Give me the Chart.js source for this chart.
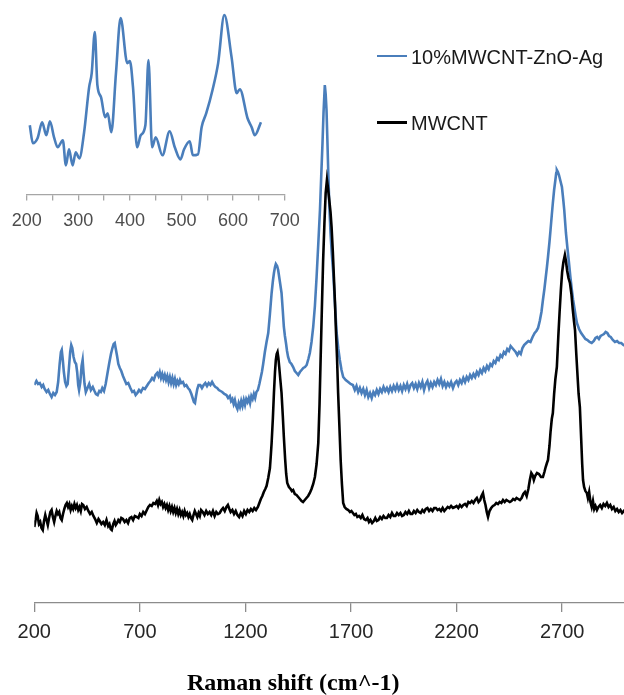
<!DOCTYPE html>
<html>
<head>
<meta charset="utf-8">
<script src="https://cdn.jsdelivr.net/npm/chart.js@4.4.1/dist/chart.umd.min.js"></script>
<style>
html,body{margin:0;padding:0;background:#fff;}
#wrap{position:relative;width:624px;height:695px;overflow:hidden;background:#fff;}
#main,#inset{position:absolute;left:0;top:0;}
.leg{position:absolute;left:377px;width:30px;height:2.5px;}
.lt{position:absolute;left:411px;font-family:'Liberation Sans',Arial,sans-serif;font-size:20px;line-height:20px;color:#1a1a1a;white-space:nowrap;}
#xtitle{position:absolute;left:187px;top:670px;font-family:'Liberation Serif','Times New Roman',serif;font-weight:bold;font-size:24px;line-height:24px;color:#000;white-space:nowrap;}
</style>
</head>
<body>
<div id="wrap">
  <canvas id="main" width="624" height="695"></canvas>
  <canvas id="inset" width="310" height="242"></canvas>
  <div class="leg" style="top:54.5px;background:#4a7ebb;"></div>
  <div class="lt" style="top:47px;">10%MWCNT-ZnO-Ag</div>
  <div class="leg" style="top:121px;background:#000;"></div>
  <div class="lt" style="top:113px;">MWCNT</div>
  <div id="xtitle">Raman shift (cm^-1)</div>
</div>
<script>
// ---- Data (Raman shift in cm^-1, intensity in arbitrary units) ----
const xTicks = [200, 700, 1200, 1700, 2200, 2700];
const insetTicks = [200, 250, 300, 350, 400, 450, 500, 550, 600, 650, 700];

const blueShift = [200,210,218,226,235,242,249,258,266,274,282,290,298,306,313,320,326,330,335,340,346,352,358,364,370,375,380,386,392,398,403,408,412,418,424,429,433,438,444,452,460,468,477,485,492,500,508,515,522,530,538,546,555,563,570,576,581,586,592,598,605,612,620,628,636,645,655,664,672,680,688,696,705,715,724,733,742,750,758,766,774,782,788,794,800,806,812,818,824,830,836,842,848,854,860,866,872,878,884,890,896,904,912,920,928,936,944,950,956,961,966,972,978,986,994,1002,1010,1018,1026,1034,1042,1050,1058,1066,1074,1082,1090,1100,1110,1118,1126,1132,1138,1144,1150,1156,1162,1168,1174,1180,1186,1192,1198,1204,1210,1216,1222,1228,1234,1240,1246,1252,1259,1266,1272,1278,1284,1292,1300,1308,1316,1324,1330,1335,1340,1344,1350,1355,1362,1371,1377,1382,1387,1392,1397,1402,1410,1418,1426,1434,1442,1450,1458,1466,1474,1482,1490,1498,1505,1513,1521,1529,1537,1545,1553,1559,1565,1570,1576,1580,1584,1588,1592,1597,1603,1609,1616,1624,1632,1640,1647,1655,1663,1675,1687,1698,1709,1718,1726,1734,1742,1750,1758,1766,1774,1782,1790,1798,1806,1814,1822,1830,1838,1846,1854,1862,1870,1878,1886,1894,1902,1910,1918,1926,1934,1942,1950,1958,1966,1974,1982,1990,1998,2006,2014,2022,2030,2038,2046,2054,2062,2070,2078,2086,2094,2102,2110,2118,2126,2134,2142,2150,2158,2166,2174,2183,2192,2200,2208,2216,2224,2232,2240,2248,2256,2264,2272,2280,2288,2296,2304,2312,2320,2328,2336,2344,2352,2360,2368,2376,2384,2392,2400,2408,2416,2424,2432,2440,2448,2456,2464,2472,2480,2488,2496,2504,2512,2520,2530,2540,2550,2560,2570,2578,2586,2594,2602,2609,2616,2622,2628,2633,2640,2645,2651,2656,2662,2668,2672,2675,2680,2685,2692,2699,2705,2710,2718,2725,2732,2739,2746,2752,2758,2764,2770,2780,2790,2800,2810,2820,2830,2840,2850,2858,2866,2874,2882,2890,2898,2906,2914,2922,2930,2940,2950,2960,2970,2980,2990,3000,3008];
const blueIntensity = [219,223,220,221,217,219,215,212,214,210,207,211,209,212,222,240,252,254,244,232,222,218,220,236,252,259,256,247,242,240,232,219,214,222,238,244,232,220,212,216,220,214,217,213,210,209,213,212,216,213,220,230,241,250,256,260,261,255,248,240,236,233,228,224,220,221,216,212,213,209,211,214,212,216,215,218,221,223,226,224,229,231,228,232,226,230,225,229,224,228,222,227,221,226,220,225,219,223,220,224,221,222,218,219,216,214,210,206,202,201,208,215,219,219,216,219,221,218,221,219,222,219,217,216,214,213,212,210,209,206,208,203,205,200,204,198,195,201,197,203,198,204,199,205,202,206,201,208,205,210,206,212,214,220,226,232,240,252,262,271,290,311,323,331,337,340,338,334,324,311,293,277,268,261,253,247,242,240,237,233,231,229,232,234,236,237,239,245,251,262,277,298,327,360,394,428,461,492,519,510,494,465,434,400,371,350,331,300,271,255,244,234,227,224,222,220,219,214,218,212,216,211,215,209,214,207,211,206,212,209,214,210,215,212,217,213,216,212,217,213,218,214,219,214,218,213,219,215,220,214,219,221,216,220,215,221,217,222,214,220,223,216,221,217,222,219,224,220,225,218,222,217,221,218,222,216,221,223,219,224,221,226,222,227,224,229,226,230,227,232,229,234,231,236,233,238,235,240,238,243,241,246,244,249,247,252,250,255,253,258,256,254,252,249,252,250,256,259,261,263,262,267,271,273,276,283,292,304,315,326,337,347,362,374,389,401,414,424,431,434,432,429,423,417,405,394,371,356,342,327,314,304,296,288,281,275,271,268,265,264,262,261,263,266,267,265,268,269,270,272,271,268,267,264,262,263,261,261,259,258,257];

const blackShift = [200,206,211,216,222,228,234,240,246,252,258,264,270,276,282,288,294,300,306,312,318,324,330,336,342,348,354,360,366,372,378,384,390,396,402,408,414,420,426,432,440,448,456,464,472,480,488,496,504,510,518,526,534,542,550,556,562,567,574,580,586,592,598,605,612,620,628,636,644,652,660,668,676,685,693,700,708,716,724,733,740,748,756,764,772,780,786,792,798,804,810,816,822,828,834,840,846,852,858,864,870,876,882,888,894,900,906,912,918,924,930,936,942,948,954,960,966,972,978,984,990,998,1006,1014,1022,1030,1038,1046,1054,1062,1070,1078,1086,1094,1102,1110,1117,1124,1130,1138,1146,1154,1162,1170,1178,1186,1194,1202,1210,1218,1226,1234,1242,1250,1259,1266,1273,1280,1287,1294,1300,1308,1316,1320,1324,1330,1335,1340,1344,1348,1352,1356,1360,1365,1371,1377,1382,1388,1393,1398,1406,1414,1420,1426,1434,1442,1450,1458,1466,1473,1481,1489,1497,1505,1513,1521,1529,1537,1545,1551,1556,1562,1568,1574,1580,1586,1591,1597,1603,1608,1614,1619,1624,1628,1634,1639,1645,1651,1657,1663,1670,1678,1687,1695,1702,1709,1716,1723,1730,1738,1746,1754,1762,1770,1778,1785,1792,1800,1808,1815,1822,1830,1838,1846,1854,1862,1870,1878,1886,1894,1902,1910,1918,1926,1934,1942,1950,1958,1966,1974,1982,1990,1998,2006,2014,2022,2030,2038,2046,2054,2062,2070,2078,2086,2094,2102,2110,2118,2126,2134,2142,2150,2158,2166,2174,2183,2192,2200,2208,2216,2224,2232,2240,2248,2256,2264,2272,2280,2288,2296,2304,2312,2318,2325,2331,2337,2343,2349,2356,2364,2372,2380,2388,2396,2404,2412,2420,2428,2436,2444,2452,2460,2468,2476,2484,2492,2500,2508,2516,2524,2532,2540,2547,2554,2560,2566,2572,2581,2590,2600,2609,2616,2622,2628,2633,2640,2645,2651,2656,2662,2668,2675,2682,2688,2694,2700,2706,2713,2718,2724,2730,2737,2744,2750,2756,2761,2767,2773,2778,2784,2790,2795,2799,2804,2810,2817,2822,2828,2834,2840,2846,2852,2858,2865,2872,2880,2888,2896,2904,2912,2920,2928,2936,2944,2952,2960,2968,2976,2984,2992,3000,3008];
const blackIntensity = [77,84,91,88,80,82,76,74,83,89,84,79,86,92,94,87,82,88,93,90,92,86,84,90,95,99,101,97,100,94,98,95,100,96,99,94,97,93,100,99,95,97,93,90,92,88,85,81,85,83,80,82,79,84,78,80,75,74,80,83,79,81,84,82,86,85,82,84,81,86,87,84,88,87,86,90,88,92,90,94,97,99,98,101,100,103,99,104,100,102,97,100,96,99,94,98,93,97,92,96,91,95,90,94,89,92,88,93,89,91,87,90,86,84,89,93,90,87,91,88,94,92,89,93,90,92,89,93,88,92,90,91,94,96,93,97,99,95,92,94,90,93,89,87,91,88,93,90,94,92,95,93,96,94,97,101,105,108,112,115,118,126,136,148,161,186,211,232,244,250,252,246,237,225,211,188,167,145,130,121,117,115,113,114,110,109,107,105,103,102,104,106,108,111,115,120,127,140,161,200,244,295,344,380,411,424,416,404,392,377,352,327,302,277,245,211,178,144,120,101,97,95,94,92,93,91,89,90,87,88,86,89,85,84,86,82,84,81,83,86,83,84,87,85,88,86,86,89,87,91,88,88,91,89,91,88,89,92,90,93,90,90,93,91,94,92,91,94,92,95,96,93,95,93,96,96,94,95,93,96,93,95,97,96,98,96,97,98,96,99,97,99,100,98,102,101,103,101,104,106,102,104,108,111,104,99,92,87,93,96,98,99,101,100,102,101,104,102,104,103,102,103,105,104,106,105,104,106,110,112,108,115,124,131,129,124,128,131,130,127,127,132,137,141,144,158,172,185,191,210,225,237,268,292,314,332,342,349,343,333,326,321,310,295,283,274,250,228,210,197,166,140,124,117,113,111,106,112,102,97,103,95,98,94,97,99,96,100,98,101,97,99,95,97,93,95,92,94,91,93,91,90];

const insetShift = [206,212,221,230,238,245,253,260,270,276,282,289,295,302,311,321,326,332,337,344,352,357,364,373,382,395,400,406,414,421,430,436,443,450,463,477,487,498,505,516,522,532,539,548,560,571,583,597,607,613,628,636,642,654];
const insetIntensity = [69,51,56,72,59,73,57,47,54,29,45,29,42,36,61,107,121,162,109,97,77,81,62,121,176,131,133,107,47,59,69,134,47,57,39,63,47,35,45,53,39,40,67,81,104,131,179,137,101,105,76,67,59,72];

const toXY = (xs, ys) => xs.map((x, i) => ({x: x, y: ys[i]}));

const BLUE = '#4a7ebb';

new Chart(document.getElementById('main'), {
  type: 'line',
  data: {
    datasets: [
      {label: 'MWCNT', data: toXY(blackShift, blackIntensity), borderColor: '#000000', borderWidth: 2.6, pointRadius: 0, tension: 0, fill: false},
      {label: '10%MWCNT-ZnO-Ag', data: toXY(blueShift, blueIntensity), borderColor: BLUE, borderWidth: 2.6, pointRadius: 0, tension: 0, fill: false}
    ]
  },
  options: {
    responsive: false,
    animation: false,
    layout: {padding: {left: 34.3, right: 0, top: 0, bottom: 43}},
    plugins: {legend: {display: false}, tooltip: {enabled: false}},
    scales: {
      x: {
        type: 'linear', min: 200, max: 2993,
        afterBuildTicks: s => { s.ticks = xTicks.map(v => ({value: v})); },
        ticks: {font: {family: 'Liberation Sans', size: 20}, color: '#262626', padding: 8, maxRotation: 0, autoSkip: false, callback: v => String(v)},
        grid: {display: true, drawOnChartArea: false, drawTicks: true, tickLength: 9, color: '#8c8c8c', lineWidth: 1.3},
        border: {display: true, color: '#8c8c8c', width: 1.3},
        title: {display: false}
      },
      y: {display: false, min: 1, max: 604}
    }
  }
});

new Chart(document.getElementById('inset'), {
  type: 'line',
  data: {
    datasets: [
      {label: 'inset', data: toXY(insetShift, insetIntensity), borderColor: BLUE, borderWidth: 2.6, pointRadius: 0, cubicInterpolationMode: 'monotone', fill: false}
    ]
  },
  options: {
    responsive: false,
    animation: false,
    layout: {padding: {left: 26.7, right: 25.3, top: 0, bottom: 0}},
    plugins: {legend: {display: false}, tooltip: {enabled: false}},
    scales: {
      x: {
        type: 'linear', min: 200, max: 700,
        afterBuildTicks: s => { s.ticks = insetTicks.map(v => ({value: v})); },
        ticks: {font: {family: 'Liberation Sans', size: 18}, color: '#4d4d4d', padding: 10, maxRotation: 0, autoSkip: false, callback: v => (v % 100 === 0 ? String(v) : '')},
        grid: {display: true, drawOnChartArea: false, drawTicks: true, tickLength: 6, color: '#a6a6a6', lineWidth: 1.3},
        border: {display: true, color: '#a6a6a6', width: 1.3}
      },
      y: {display: false, min: 0, max: 194}
    }
  }
});
</script>
</body>
</html>
